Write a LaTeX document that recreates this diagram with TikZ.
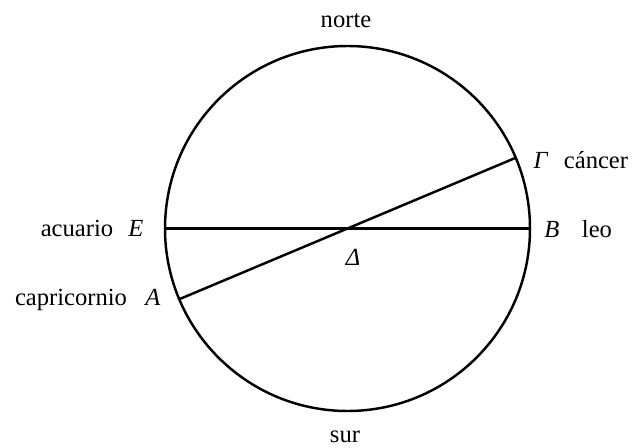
\documentclass[tikz,border=0pt]{standalone}
\usepackage{fontspec}
\setmainfont{Liberation Serif}
\begin{document}
\begin{tikzpicture}[x=0.02cm, y=-0.02cm, line join=round, line cap=round, font=\fontsize{14}{16}\selectfont]
	\useasboundingbox (0,0) rectangle (633,447);
	\coordinate (D) at (347.5,228.5);
	\coordinate (E) at (165,228.5);
	\coordinate (B) at (530,228.5);
	\coordinate (G) at (515.7,157.8);
	\coordinate (A) at (179.3,299.2);
	
	\draw[line width=1.4pt] (D) circle (182.5);
	\draw[line width=1.4pt] (E)--(B);
	\draw[line width=1.4pt] (A)--(G);
	
	\node[anchor=base] (norte) at (346,27) {norte};
	\node[anchor=base] (sur) at (345,442) {sur};
	\node[anchor=base] (acuario) at (77,236) {acuario};
	\node[anchor=base] (labE) at (136,236) {\textit{E}};
	\node[anchor=base] (capri) at (71,305) {capricornio};
	\node[anchor=base] (labA) at (153,305) {\textit{A}};
	\node[anchor=base] (labB) at (552,237) {\textit{B}};
	\node[anchor=base] (leo) at (597,237) {leo};
	\node[anchor=base] (labG) at (541,168) {\textit{Γ}};
	\node[anchor=base] (cancer) at (596,168) {cáncer};
	\node[anchor=base] (labD) at (353,265) {\textit{Δ}};
\end{tikzpicture}
\end{document}
